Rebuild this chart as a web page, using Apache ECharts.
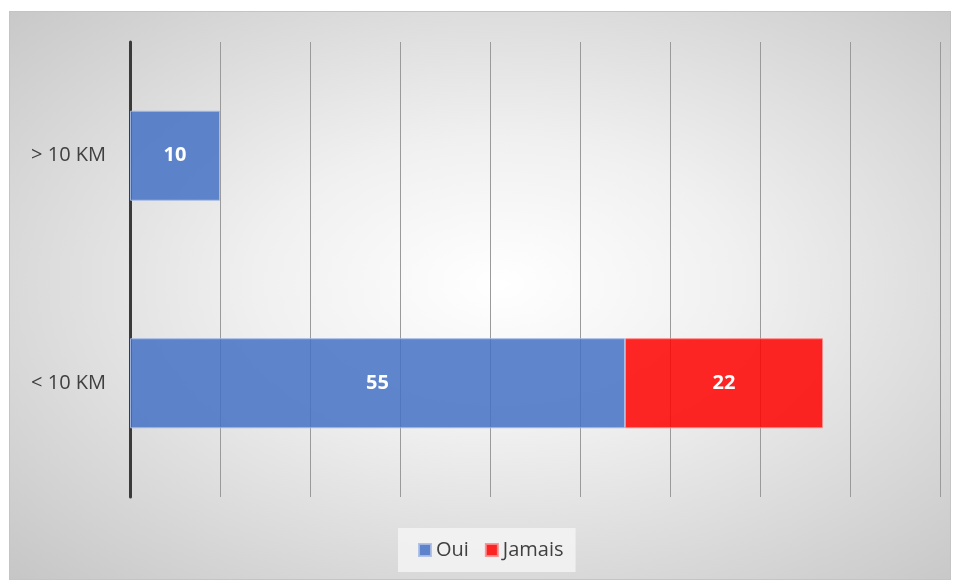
<!DOCTYPE html>
<html>
<head>
<meta charset="utf-8">
<script src="https://cdn.jsdelivr.net/npm/echarts@6/dist/echarts.min.js"></script>
<style>
html, body { margin: 0; padding: 0; background: #fff; }
#frame {
    position: absolute; left: 9px; top: 11px; width: 942px; height: 569px;
    border: 1px solid #c4c4c4; box-sizing: border-box;
    background: radial-gradient(ellipse at 52% 48%, #ffffff 0%, #f0f0f0 35%, #c6c6c6 100%);
}
#chart { position: absolute; left: 0; top: 0; width: 959px; height: 583px; }
</style>
</head>
<body>
<div id="frame"></div>
<div id="chart"></div>
<script>
const categories = ['< 10 KM', '> 10 KM'];
const ouiValues = [55, 10];
const jamaisValues = [22, null];
const seriesNames = ['Oui', 'Jamais'];

const chart = echarts.init(document.getElementById('chart'));
const labelStyle = {
    show: true,
    position: 'inside',
    color: '#fff',
    fontWeight: 'bold',
    fontSize: 20,
    fontFamily: 'Open Sans'
};
const option = {
    backgroundColor: 'transparent',
    textStyle: { fontFamily: 'Open Sans' },
    grid: { left: 130, right: 19, top: 42, bottom: 86 },
    xAxis: {
        type: 'value',
        min: 0,
        max: 90,
        interval: 10,
        axisLabel: { show: false },
        axisLine: { show: false },
        axisTick: { show: false },
        splitLine: { lineStyle: { color: '#9a9a9a', width: 1 } }
    },
    yAxis: {
        type: 'category',
        data: categories,
        axisTick: { show: false },
        axisLine: { lineStyle: { color: '#3a3a3a', width: 3 } },
        axisLabel: { color: '#404040', fontSize: 20, margin: 24 }
    },
    legend: {
        bottom: 11,
        left: 398,
        icon: 'rect',
        itemWidth: 12,
        itemHeight: 12,
        itemGap: 16,
        padding: [12, 12, 12, 20],
        backgroundColor: 'rgba(245,245,245,0.8)',
        textStyle: { color: '#404040', fontSize: 20 },
        data: seriesNames
    },
    series: [
        {
            name: seriesNames[0],
            type: 'bar',
            stack: 'total',
            barWidth: '39.6%',
            data: ouiValues,
            itemStyle: { color: 'rgba(68,114,196,0.85)', borderColor: 'rgba(170,190,230,0.9)', borderWidth: 1 },
            label: labelStyle
        },
        {
            name: seriesNames[1],
            type: 'bar',
            stack: 'total',
            data: jamaisValues,
            itemStyle: { color: 'rgba(255,0,0,0.85)', borderColor: 'rgba(255,140,140,0.9)', borderWidth: 1 },
            label: labelStyle
        }
    ]
};
chart.setOption(option);
</script>
</body>
</html>
